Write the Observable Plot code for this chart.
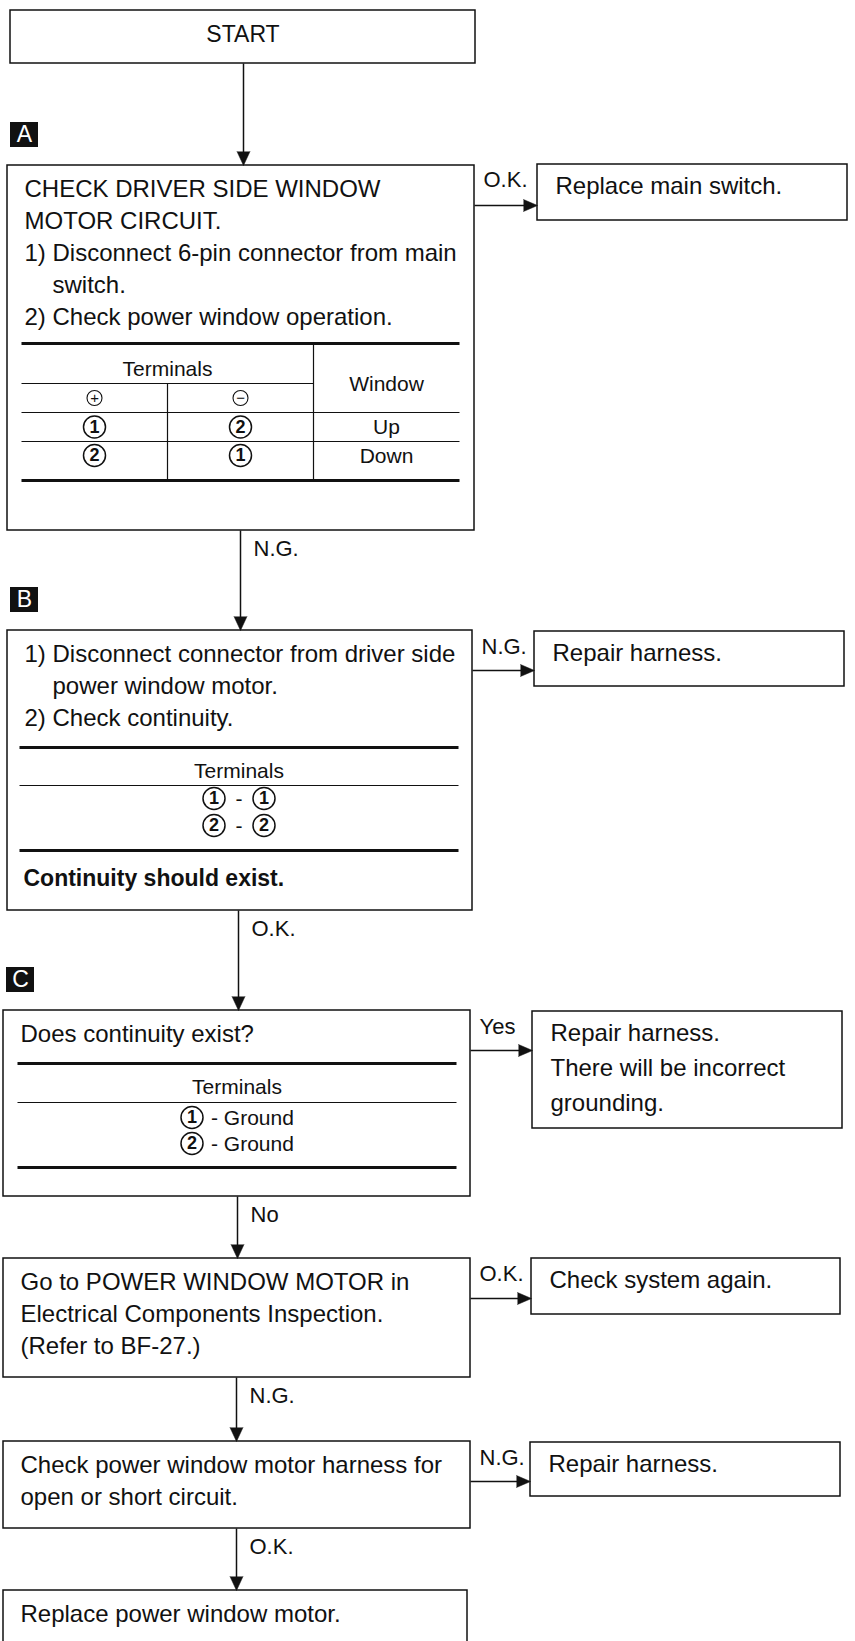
<!DOCTYPE html>
<html><head><meta charset="utf-8">
<script src="https://cdn.jsdelivr.net/npm/d3@7"></script>
<script src="https://cdn.jsdelivr.net/npm/@observablehq/plot@0.6"></script>
<style>html,body{margin:0;padding:0;background:#fff;} svg{display:block}</style>
</head><body><div id="chart"></div>
<script>
// ---------------- content ----------------
const startText = "START";
const badgeLetters = ["A", "B", "C"];
const stepAText = [
  {t: "CHECK DRIVER SIDE WINDOW"},
  {t: "MOTOR CIRCUIT."},
  {t: "1) Disconnect 6-pin connector from main"},
  {t: "switch.", cont: true},
  {t: "2) Check power window operation."}
];
const stepBText = [
  {t: "1) Disconnect connector from driver side"},
  {t: "power window motor.", cont: true},
  {t: "2) Check continuity."}
];
const stepBNote = "Continuity should exist.";
const stepCText = [{t: "Does continuity exist?"}];
const stepDText = [
  {t: "Go to POWER WINDOW MOTOR in"},
  {t: "Electrical Components Inspection."},
  {t: "(Refer to BF-27.)"}
];
const stepEText = [
  {t: "Check power window motor harness for"},
  {t: "open or short circuit."}
];
const stepFText = [{t: "Replace power window motor."}];
const sideResults = [
  ["Replace main switch."],
  ["Repair harness."],
  ["Repair harness.", "There will be incorrect", "grounding."],
  ["Check system again."],
  ["Repair harness."]
];
const sideLabels = ["O.K.", "N.G.", "Yes", "O.K.", "N.G."];
const downLabels = ["N.G.", "O.K.", "No", "N.G.", "O.K."]; // A→B, B→C, C→D, D→E, E→F
const tableAHead = ["Terminals", "Window"];
const tableAPolarity = ["+", "\u2212"];
const tableARows = [["1", "2", "Up"], ["2", "1", "Down"]];
const tableBHead = "Terminals";
const tableBRows = [["1", "1"], ["2", "2"]];
const tableCHead = "Terminals";
const tableCRows = [["1", "- Ground"], ["2", "- Ground"]];

// ---------------- layout ----------------
const W = 855, H = 1641;
const mainBox = [            // [x1, x2, y1, y2]
  [10, 475, 10, 63],         // START
  [7, 474, 165, 530],        // A
  [7, 472, 630, 910],        // B
  [3, 470, 1010, 1196],      // C
  [3, 470, 1258, 1377],      // D
  [3, 470, 1441, 1528],      // E
  [3, 467, 1590, H + 20]     // F
];
const flowX = [243, 240, 238, 237, 236, 236];
const sideBox = [            // attached to main boxes 1..5
  [537, 847, 164, 220],
  [534, 844, 631, 686],
  [532, 842, 1011, 1128],
  [531, 840, 1258, 1314],
  [530, 840, 1442, 1496]
];
const tA = {x1: 21, x2: 459, yTop: 343, ySub: 383, yR1: 412, yR2: 441, yBot: 480};
const tB = {x1: 19, x2: 458, yTop: 747, ySub: 785, yBot: 850};
const tC = {x1: 17, x2: 456, yTop: 1063, ySub: 1102, yBot: 1167};

const FONT = "Liberation Sans, Arial, Helvetica, sans-serif";
const FS = 24, FS_TAB = 21, FS_LBL = 22, LINE = 32;

// ---------------- derived mark data ----------------
const boxes = [...mainBox, ...sideBox].map(([x1, x2, y1, y2]) => ({x1, x2, y1, y2}));

const bodyLines = [];
[stepAText, stepBText, stepCText, stepDText, stepEText, stepFText].forEach((lines, k) => {
  const [x1, , y1] = mainBox[k + 1];
  lines.forEach((ln, i) => bodyLines.push({x: x1 + 17 + (ln.cont ? 28 : 0), y: y1 + 31 + i * LINE, text: ln.t}));
});
sideResults.forEach((lines, j) => {
  const [x1, , y1] = sideBox[j];
  lines.forEach((t, i) => bodyLines.push({x: x1 + 18, y: y1 + 29 + i * 35, text: t}));
});

const flowLinks = [], tris = [], labels = [];
for (let i = 0; i < mainBox.length - 1; i++) {
  const x = flowX[i], y1 = mainBox[i][3], y2 = mainBox[i + 1][2];
  flowLinks.push({x1: x, y1, x2: x, y2: y2 - 12});
  tris.push({id: "d" + i, x: x - 6.5, y: y2 - 14}, {id: "d" + i, x: x, y: y2}, {id: "d" + i, x: x + 6.5, y: y2 - 14});
  if (i > 0) labels.push({x: x + 13, y: y1 + 25, text: downLabels[i - 1]});
}
sideBox.forEach((sb, j) => {
  const mb = mainBox[j + 1];
  const y = mb[2] + 40;
  flowLinks.push({x1: mb[1], y1: y, x2: sb[0] - 12, y2: y});
  tris.push({id: "s" + j, x: sb[0] - 14, y: y - 6}, {id: "s" + j, x: sb[0], y}, {id: "s" + j, x: sb[0] - 14, y: y + 6});
  labels.push({x: mb[1] + 9, y: sb[2] + 22, text: sideLabels[j]});
});

const badges = badgeLetters.map((L, k) => {
  const mb = mainBox[k + 1];
  const x1 = mb[0] + 3, y2 = mb[2] - 18;
  return {x1, x2: x1 + 28, y1: y2 - 25, y2, cx: x1 + 14, cy: y2 - 12.5, text: L};
});

// tables
const thick = [], thin = [], tabTexts = [], circles = [], circleDigits = [], smallCircles = [], smallSigns = [];
{
  const w = tA.x2 - tA.x1, c1 = tA.x1 + w / 3, c2 = tA.x1 + 2 * w / 3;
  const cx = [tA.x1 + w / 6, tA.x1 + w / 2, tA.x1 + 5 * w / 6];
  thick.push({x1: tA.x1, x2: tA.x2, y1: tA.yTop, y2: tA.yTop}, {x1: tA.x1, x2: tA.x2, y1: tA.yBot, y2: tA.yBot});
  thin.push({x1: tA.x1, x2: c2, y1: tA.ySub, y2: tA.ySub},
            {x1: tA.x1, x2: tA.x2, y1: tA.yR1, y2: tA.yR1},
            {x1: tA.x1, x2: tA.x2, y1: tA.yR2, y2: tA.yR2},
            {x1: c2, x2: c2, y1: tA.yTop, y2: tA.yBot},
            {x1: c1, x2: c1, y1: tA.ySub, y2: tA.yBot});
  tabTexts.push({x: c1, y: tA.yTop + 32, text: tableAHead[0]}, {x: cx[2], y: tA.yTop + 47, text: tableAHead[1]});
  const py = (tA.ySub + tA.yR1) / 2;
  tableAPolarity.forEach((s, i) => { smallCircles.push({x: cx[i], y: py}); smallSigns.push({x: cx[i], y: py, text: s}); });
  const rowY = [(tA.yR1 + tA.yR2) / 2, tA.yR2 + 14];
  tableARows.forEach((r, i) => {
    circles.push({x: cx[0], y: rowY[i]}, {x: cx[1], y: rowY[i]});
    circleDigits.push({x: cx[0], y: rowY[i], text: r[0]}, {x: cx[1], y: rowY[i], text: r[1]});
    tabTexts.push({x: cx[2], y: rowY[i] + 7, text: r[2]});
  });
}
{
  const cx = (tB.x1 + tB.x2) / 2;
  thick.push({x1: tB.x1, x2: tB.x2, y1: tB.yTop, y2: tB.yTop}, {x1: tB.x1, x2: tB.x2, y1: tB.yBot, y2: tB.yBot});
  thin.push({x1: tB.x1, x2: tB.x2, y1: tB.ySub, y2: tB.ySub});
  tabTexts.push({x: cx, y: tB.yTop + 30, text: tableBHead});
  tableBRows.forEach((r, i) => {
    const y = tB.ySub + 13 + i * 27;
    circles.push({x: cx - 25, y}, {x: cx + 25, y});
    circleDigits.push({x: cx - 25, y, text: r[0]}, {x: cx + 25, y, text: r[1]});
    tabTexts.push({x: cx, y: y + 7, text: "-"});
  });
}
const tabStartTexts = [];
{
  const cx = (tC.x1 + tC.x2) / 2;
  thick.push({x1: tC.x1, x2: tC.x2, y1: tC.yTop, y2: tC.yTop}, {x1: tC.x1, x2: tC.x2, y1: tC.yBot, y2: tC.yBot});
  thin.push({x1: tC.x1, x2: tC.x2, y1: tC.ySub, y2: tC.ySub});
  tabTexts.push({x: cx, y: tC.yTop + 30, text: tableCHead});
  tableCRows.forEach((r, i) => {
    const y = tC.ySub + 15 + i * 26;
    circles.push({x: cx - 45, y});
    circleDigits.push({x: cx - 45, y, text: r[0]});
    tabStartTexts.push({x: cx - 26, y: y + 7, text: r[1]});
  });
}
const noteB = [{x: mainBox[2][0] + 16, y: tB.yBot + 35, text: stepBNote}];
const startLbl = [{x: (mainBox[0][0] + mainBox[0][1]) / 2, y: mainBox[0][2] + 31, text: startText}];

// ---------------- plot ----------------
const chart = Plot.plot({
  width: W, height: H, margin: 0,
  x: {domain: [0, W], range: [0, W], axis: null},
  y: {domain: [0, H], range: [0, H], axis: null},
  style: {background: "white", fontFamily: FONT},
  marks: [
    Plot.rect(boxes, {x1: "x1", x2: "x2", y1: "y1", y2: "y2", fill: "white", stroke: "#111", strokeWidth: 1.5}),
    Plot.link(thin, {x1: "x1", y1: "y1", x2: "x2", y2: "y2", stroke: "#111", strokeWidth: 1.2}),
    Plot.link(thick, {x1: "x1", y1: "y1", x2: "x2", y2: "y2", stroke: "#111", strokeWidth: 3.2}),
    Plot.link(flowLinks, {x1: "x1", y1: "y1", x2: "x2", y2: "y2", stroke: "#111", strokeWidth: 1.5}),
    Plot.line(tris, {x: "x", y: "y", z: "id", fill: "#111", stroke: "#111", strokeWidth: 0.5}),
    Plot.rect(badges, {x1: "x1", x2: "x2", y1: "y1", y2: "y2", fill: "#111"}),
    Plot.text(badges, {x: "cx", y: "cy", text: "text", fill: "white", fontSize: 23, fontFamily: FONT, lineAnchor: "middle"}),
    Plot.dot(circles, {x: "x", y: "y", r: 11, fill: "white", stroke: "#111", strokeWidth: 1.5}),
    Plot.text(circleDigits, {x: "x", y: "y", text: "text", fontSize: 18, fontWeight: "bold", fontFamily: FONT, fill: "#111"}),
    Plot.dot(smallCircles, {x: "x", y: "y", r: 7.5, fill: "white", stroke: "#111", strokeWidth: 1.1}),
    Plot.text(smallSigns, {x: "x", y: "y", text: "text", fontSize: 15, fontFamily: FONT, fill: "#111"}),
    Plot.text(startLbl, {x: "x", y: "y", text: "text", fontSize: 23, fontFamily: FONT, lineAnchor: "bottom", fill: "#111"}),
    Plot.text(bodyLines, {x: "x", y: "y", text: "text", fontSize: FS, fontFamily: FONT, textAnchor: "start", lineAnchor: "bottom", fill: "#111"}),
    Plot.text(noteB, {x: "x", y: "y", text: "text", fontSize: 23, fontWeight: "bold", fontFamily: FONT, textAnchor: "start", lineAnchor: "bottom", fill: "#111"}),
    Plot.text(tabTexts, {x: "x", y: "y", text: "text", fontSize: FS_TAB, fontFamily: FONT, lineAnchor: "bottom", fill: "#111"}),
    Plot.text(tabStartTexts, {x: "x", y: "y", text: "text", fontSize: FS_TAB, fontFamily: FONT, textAnchor: "start", lineAnchor: "bottom", fill: "#111"}),
    Plot.text(labels, {x: "x", y: "y", text: "text", fontSize: FS_LBL, fontFamily: FONT, textAnchor: "start", lineAnchor: "bottom", fill: "#111"})
  ]
});
document.getElementById("chart").appendChild(chart);
</script>
</body></html>
